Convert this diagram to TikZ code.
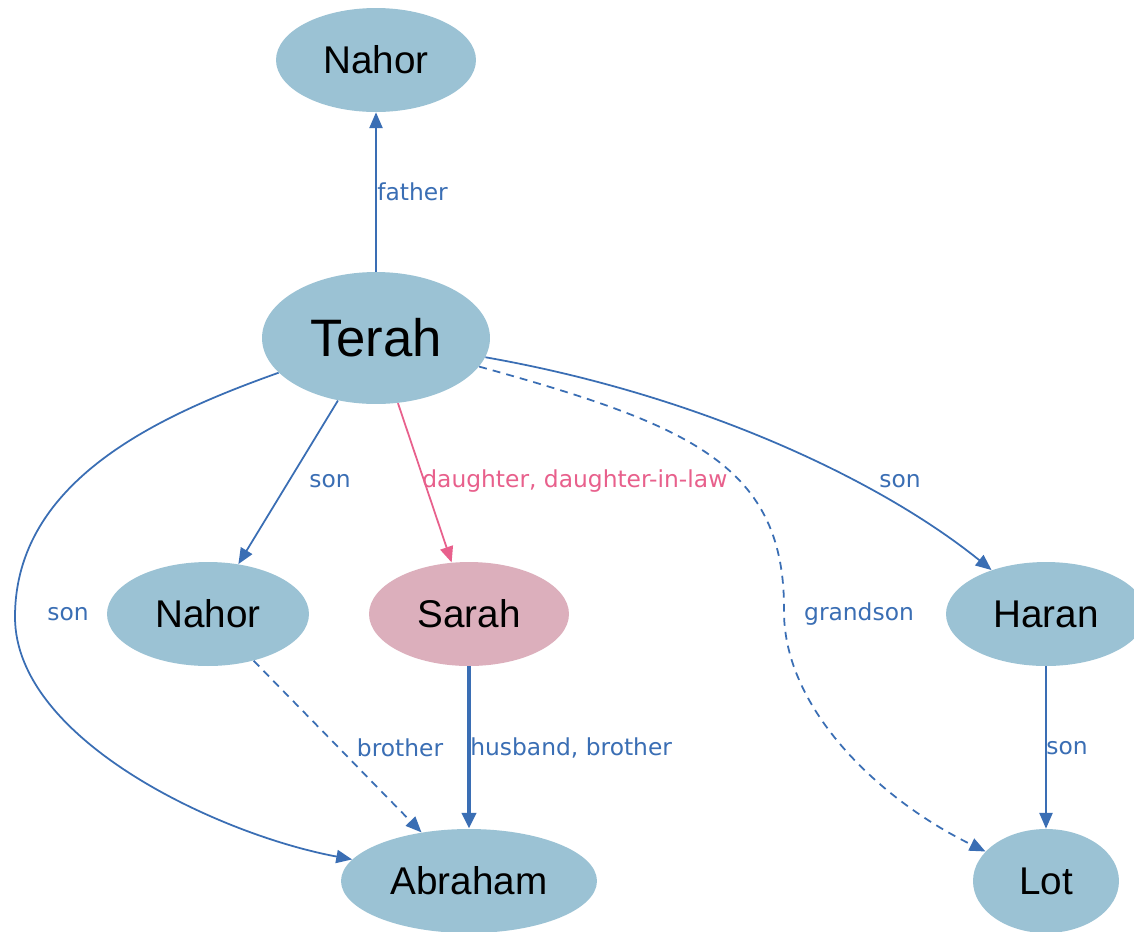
\documentclass[tikz,border=0pt]{standalone}
\usepackage{fontspec}
\setmainfont{Liberation Sans}
\newfontfamily\labelfont{DejaVu Sans}
\usetikzlibrary{shapes.geometric,arrows.meta}
\definecolor{nodeblue}{RGB}{155,194,212}
\definecolor{nodepink}{RGB}{220,175,188}
\definecolor{edgeblue}{RGB}{58,110,180}
\definecolor{edgepink}{RGB}{232,96,140}
\begin{document}
\begin{tikzpicture}[x=0.02cm,y=-0.02cm,
  person/.style={ellipse,fill=nodeblue,inner sep=0pt,minimum height=2.08cm,
    font=\fontsize{22}{26}\selectfont},
  rel/.style={draw=edgeblue,line width=1pt,-{Triangle[length=9pt,width=7.5pt]}},
  relpink/.style={rel,draw=edgepink},
  reldash/.style={rel,dash pattern=on 4.5pt off 3.5pt},
  relthick/.style={rel,line width=2.8pt,-{Triangle[length=9pt,width=8pt]}},
  lbl/.style={font=\labelfont\fontsize{13.3}{15}\selectfont,text=edgeblue,inner sep=0pt},
  lblpink/.style={lbl,text=edgepink}]
\useasboundingbox (0,0) rectangle (1134,931);
\clip (0,0) rectangle (1134,931);
\fill[white] (0,0) rectangle (1134,931);

% nodes
\node[person,minimum width=4cm] (nahortop) at (376,60) {Nahor};
\node[person,minimum width=4.56cm,minimum height=2.64cm,
      font=\fontsize{30}{34}\selectfont] (terah) at (376,338) {Terah};
\node[person,minimum width=4.04cm] (nahor) at (208,614) {Nahor};
\node[person,fill=nodepink,minimum width=4cm] (sarah) at (469,614) {Sarah};
\node[person,minimum width=4cm] (haran) at (1046,614) {Haran};
\node[person,minimum width=5.12cm] (abraham) at (469,881) {Abraham};
\node[person,minimum width=2.92cm] (lot) at (1046,881) {Lot};

% connectors
\draw[rel] (terah) -- (nahortop);
\draw[rel] (terah) -- (nahor);
\draw[relpink] (terah) -- (sarah);
\draw[rel] (terah) .. controls (700,395) and (880,480) .. (haran);
\coordinate (gsmid) at (784,613);
\draw[reldash] (terah) .. controls (690,425) and (786,465) .. (gsmid)
  .. controls (785,710) and (880,800) .. (lot);
\coordinate (sonmid) at (15,617);
\draw[rel] (terah) .. controls (160,415) and (15,480) .. (sonmid)
  .. controls (15,740) and (220,835) .. (abraham);
\draw[reldash] (nahor) -- (abraham);
\draw[relthick] (sarah) -- (abraham);
\draw[rel] (haran) -- (lot);

% labels
\node[lbl,anchor=west] (lfather) at (377,192) {father};
\node[lbl] (lson1) at (330,481) {son};
\node[lblpink,anchor=west] (ldaughter) at (422,481) {daughter, daughter-in-law};
\node[lbl] (lson2) at (900,481) {son};
\node[lbl] (lson3) at (68,614) {son};
\node[lbl] (lgrandson) at (859,614) {grandson};
\node[lbl] (lbrother) at (400,748) {brother};
\node[lbl,anchor=west] (lhusband) at (470,748) {husband, brother};
\node[lbl] (lson4) at (1067,748) {son};
\end{tikzpicture}
\end{document}
